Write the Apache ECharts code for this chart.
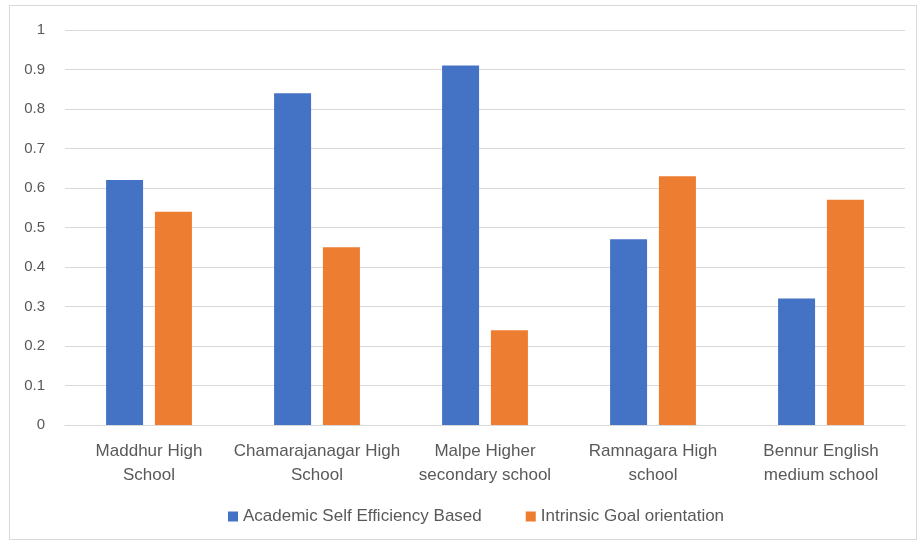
<!DOCTYPE html>
<html>
<head>
<meta charset="utf-8">
<script src="https://cdn.jsdelivr.net/npm/echarts@6/dist/echarts.min.js"></script>
<style>
html,body{margin:0;padding:0;background:#fff;}
#frame{position:absolute;left:9px;top:5px;width:908px;height:535px;border:1px solid #d9d9d9;box-sizing:border-box;}
#chart{position:absolute;left:0;top:0;width:922px;height:545px;}
</style>
</head>
<body>
<div id="frame"></div>
<div id="chart"></div>
<script>
const categories = ["Maddhur High\nSchool", "Chamarajanagar High\nSchool", "Malpe Higher\nsecondary school", "Ramnagara High\nschool", "Bennur English\nmedium school"];
const seriesNames = ["Academic Self Efficiency Based", "Intrinsic Goal orientation"];
const academicSelfEfficiency = [0.62, 0.84, 0.91, 0.47, 0.32];
const intrinsicGoal = [0.54, 0.45, 0.24, 0.63, 0.57];

const chart = echarts.init(document.getElementById('chart'), null, {renderer: 'canvas'});
const font = 'Liberation Sans';
chart.setOption({
  animation: false,
  textStyle: {fontFamily: font},
  grid: {left: 65, right: 17, top: 30, bottom: 120, containLabel: false},
  legend: {
    bottom: 15, left: 223,
    itemWidth: 10, itemHeight: 10, itemGap: 44,
    icon: 'rect',
    textStyle: {fontFamily: font, fontSize: 17, color: '#595959'},
    data: seriesNames
  },
  xAxis: {
    type: 'category',
    data: categories,
    axisLine: {lineStyle: {color: '#d9d9d9', width: 1}},
    axisTick: {show: false},
    axisLabel: {fontFamily: font, fontSize: 17, color: '#595959', lineHeight: 24, margin: 14, interval: 0}
  },
  yAxis: {
    type: 'value', min: 0, max: 1, interval: 0.1,
    axisLine: {show: false}, axisTick: {show: false},
    splitLine: {lineStyle: {color: '#d9d9d9', width: 1}},
    axisLabel: {fontFamily: font, fontSize: 15, color: '#595959', margin: 20,
      formatter: v => (Math.round(v*10)/10).toString()}
  },
  series: [
    {name: seriesNames[0], type: 'bar', data: academicSelfEfficiency, barWidth: 37, barGap: '32%', itemStyle: {color: '#4472c4'}},
    {name: seriesNames[1], type: 'bar', data: intrinsicGoal, barWidth: 37, itemStyle: {color: '#ed7d31'}}
  ]
});
</script>
</body>
</html>
